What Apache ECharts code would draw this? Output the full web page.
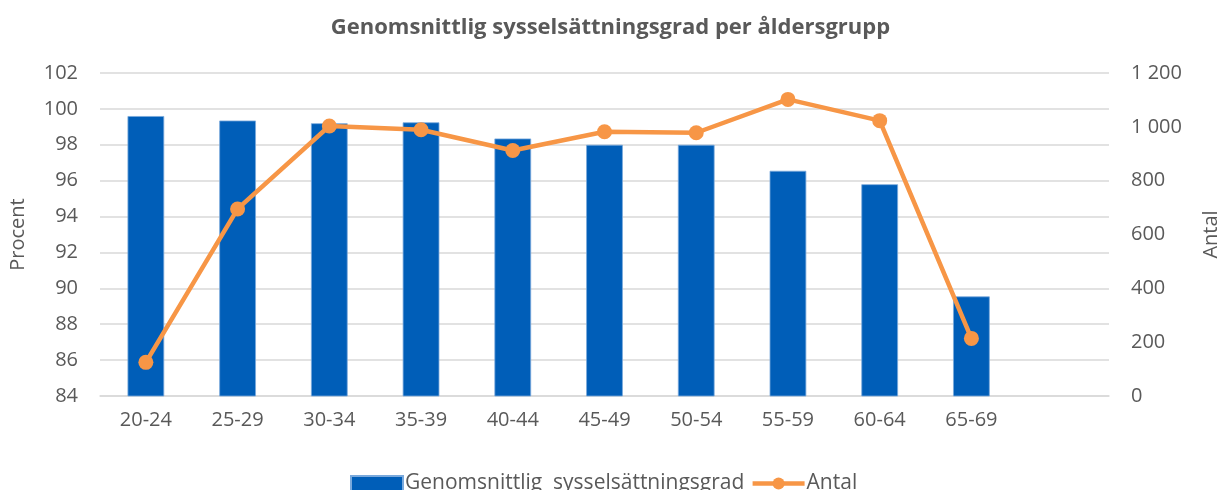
<!DOCTYPE html>
<html>

<head>
    <meta charset="UTF-8">
    <script src="https://cdn.jsdelivr.net/npm/echarts@6/dist/echarts.min.js"></script>
    <style>
        html, body { margin: 0; padding: 0; background: #fff; }
    </style>
</head>

<body>
    <div id="chart" style="width: 1221px;height:490px"></div>
    <script>
    // data
    var categories = ['20-24', '25-29', '30-34', '35-39', '40-44', '45-49', '50-54', '55-59', '60-64', '65-69', ''];
    var grad = [99.6, 99.35, 99.2, 99.25, 98.35, 98.0, 98.0, 96.55, 95.8, 89.55, '-'];
    var antal = [125, 695, 1003, 989, 912, 982, 978, 1102, 1023, 214, '-'];
    var leftTicks = { min: 84, max: 102, step: 2 };
    var rightTicks = { min: 0, max: 1200, step: 200 };

    var txt = '#595959';
    var font = 'Open Sans';

    var option = {
        animation: false,
        textStyle: { fontFamily: font, color: txt },
        title: {
            text: 'Genomsnittlig sysselsättningsgrad per åldersgrupp',
            left: 'center',
            top: 12,
            textStyle: { fontFamily: font, fontSize: 22, fontWeight: 'bold', color: txt }
        },
        legend: {
            left: 345,
            top: 468,
            itemWidth: 52,
            itemHeight: 15,
            itemGap: 6,
            textStyle: { fontFamily: font, fontSize: 21, color: txt, padding: [0, 0, 0, -3] },
            data: [
                { name: 'Genomsnittlig  sysselsättningsgrad', icon: 'rect' },
                { name: 'Antal', lineStyle: { width: 4.5 } }
            ]
        },
        grid: { left: 100, right: 112, top: 73, bottom: 94, containLabel: false, outerBoundsMode: 'none' },
        xAxis: {
            type: 'category',
            data: categories,
            axisLine: { lineStyle: { color: '#d9d9d9', width: 1.5 } },
            axisTick: { show: false },
            axisLabel: { fontSize: 20, color: txt, margin: 14, interval: 0 }
        },
        yAxis: [{
            type: 'value',
            name: 'Procent',
            nameLocation: 'middle',
            nameRotate: 90,
            nameGap: 72,
            nameTextStyle: { fontSize: 20, color: txt },
            min: leftTicks.min,
            max: leftTicks.max,
            interval: leftTicks.step,
            axisLine: { show: false },
            axisTick: { show: false },
            axisLabel: { fontSize: 20, color: txt, margin: 22 },
            splitLine: { lineStyle: { color: '#d9d9d9', width: 1.5 } }
        }, {
            type: 'value',
            name: 'Antal',
            nameLocation: 'middle',
            nameRotate: 90,
            nameGap: 92,
            nameTextStyle: { fontSize: 20, color: txt },
            min: rightTicks.min,
            max: rightTicks.max,
            interval: rightTicks.step,
            axisLine: { show: false },
            axisTick: { show: false },
            splitLine: { show: false },
            axisLabel: {
                fontSize: 20,
                color: txt,
                margin: 22,
                formatter: function(v) {
                    return String(v).replace(/\B(?=(\d{3})+(?!\d))/g, ' ');
                }
            }
        }],
        series: [{
            name: 'Genomsnittlig  sysselsättningsgrad',
            type: 'bar',
            data: grad,
            barWidth: '40%',
            itemStyle: { color: '#005EB8', borderColor: '#7aa9dc', borderWidth: 0.8 }
        }, {
            name: 'Antal',
            type: 'line',
            yAxisIndex: 1,
            data: antal,
            symbol: 'circle',
            symbolSize: 15,
            lineStyle: { color: '#F79646', width: 4.5 },
            itemStyle: { color: '#F79646' }
        }]
    };

    var myChart = echarts.init(document.getElementById('chart'));
    myChart.setOption(option);
    </script>
</body>

</html>
